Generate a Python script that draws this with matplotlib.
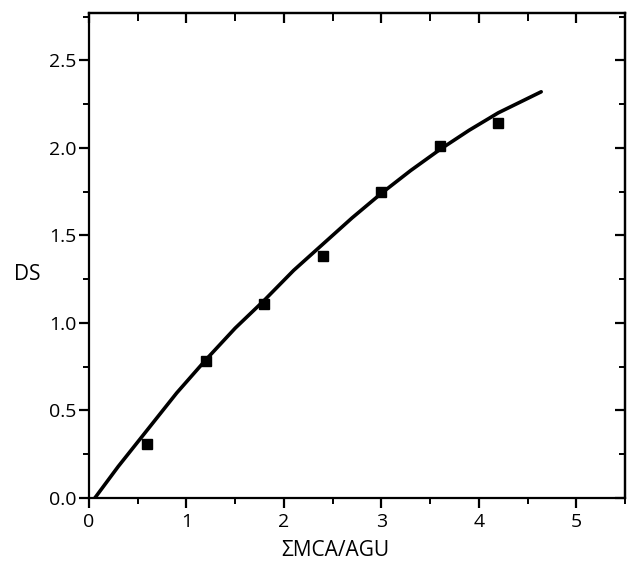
import matplotlib
matplotlib.use("Agg")
import matplotlib.pyplot as plt
from matplotlib.ticker import MultipleLocator

plt.rcParams['font.family'] = ['Open Sans', 'DejaVu Sans']

# measured points
mca_ratio = [0.6, 1.2, 1.8, 2.4, 3.0, 3.6, 4.2]
ds_values = [0.31, 0.78, 1.11, 1.38, 1.75, 2.01, 2.14]

# fitted curve
curve_x = [0.06, 0.3, 0.6, 0.9, 1.2, 1.5, 1.8, 2.1, 2.4, 2.7, 3.0, 3.3, 3.6, 3.9, 4.2, 4.64]
curve_y = [0.00, 0.18, 0.39, 0.60, 0.79, 0.97, 1.13, 1.30, 1.45, 1.60, 1.74, 1.87, 1.99, 2.10, 2.20, 2.32]

x_ticks = [0, 1, 2, 3, 4, 5]
y_ticks = [0.0, 0.5, 1.0, 1.5, 2.0, 2.5]
y_tick_labels = ['0.0', '0.5', '1.0', '1.5', '2.0', '2.5']

fig = plt.figure(figsize=(6.27, 5.61), dpi=100)
ax = fig.add_axes([89/627, 1 - 498/561, (625 - 89)/627, (498 - 13)/561])

ax.plot(curve_x, curve_y, color='black', lw=2.6, solid_capstyle='round',
        solid_joinstyle='round', zorder=3)
ax.plot(mca_ratio, ds_values, 's', color='black', ms=7, zorder=4)

ax.set_xlim(0, 5.5)
ax.set_ylim(0, 2.77)
ax.set_xticks(x_ticks)
ax.set_yticks(y_ticks)
ax.set_yticklabels(y_tick_labels)
ax.xaxis.set_minor_locator(MultipleLocator(0.5))
ax.yaxis.set_minor_locator(MultipleLocator(0.25))

for s in ax.spines.values():
    s.set_linewidth(1.6)

ax.tick_params(which='major', direction='out', length=7, width=1.6, labelsize=14, color='black')
ax.tick_params(which='minor', direction='out', length=4, width=1.4)
ax.tick_params(axis='y', which='major', pad=2)
ax.tick_params(axis='x', which='major', pad=4)

# inward ticks on top and right
top = ax.secondary_xaxis('top')
top.set_xticks(x_ticks)
top.xaxis.set_minor_locator(MultipleLocator(0.5))
top.tick_params(which='major', direction='in', length=7, width=1.6, labeltop=False)
top.tick_params(which='minor', direction='in', length=6, width=1.4)
top.spines['top'].set_linewidth(1.6)

right = ax.secondary_yaxis('right')
right.set_yticks(y_ticks)
right.yaxis.set_minor_locator(MultipleLocator(0.25))
right.tick_params(which='major', direction='in', length=7, width=1.6, labelright=False)
right.tick_params(which='minor', direction='in', length=4, width=1.4)
right.spines['right'].set_linewidth(1.6)

ax.set_xlabel('ΣMCA/AGU', fontsize=15)
ax.xaxis.set_label_coords(0.459, -0.087)
ax.set_ylabel('DS', fontsize=15, rotation=0, va='center', ha='center')
ax.yaxis.set_label_coords(-0.116, 0.46)

fig.savefig('out.png', dpi=100)
